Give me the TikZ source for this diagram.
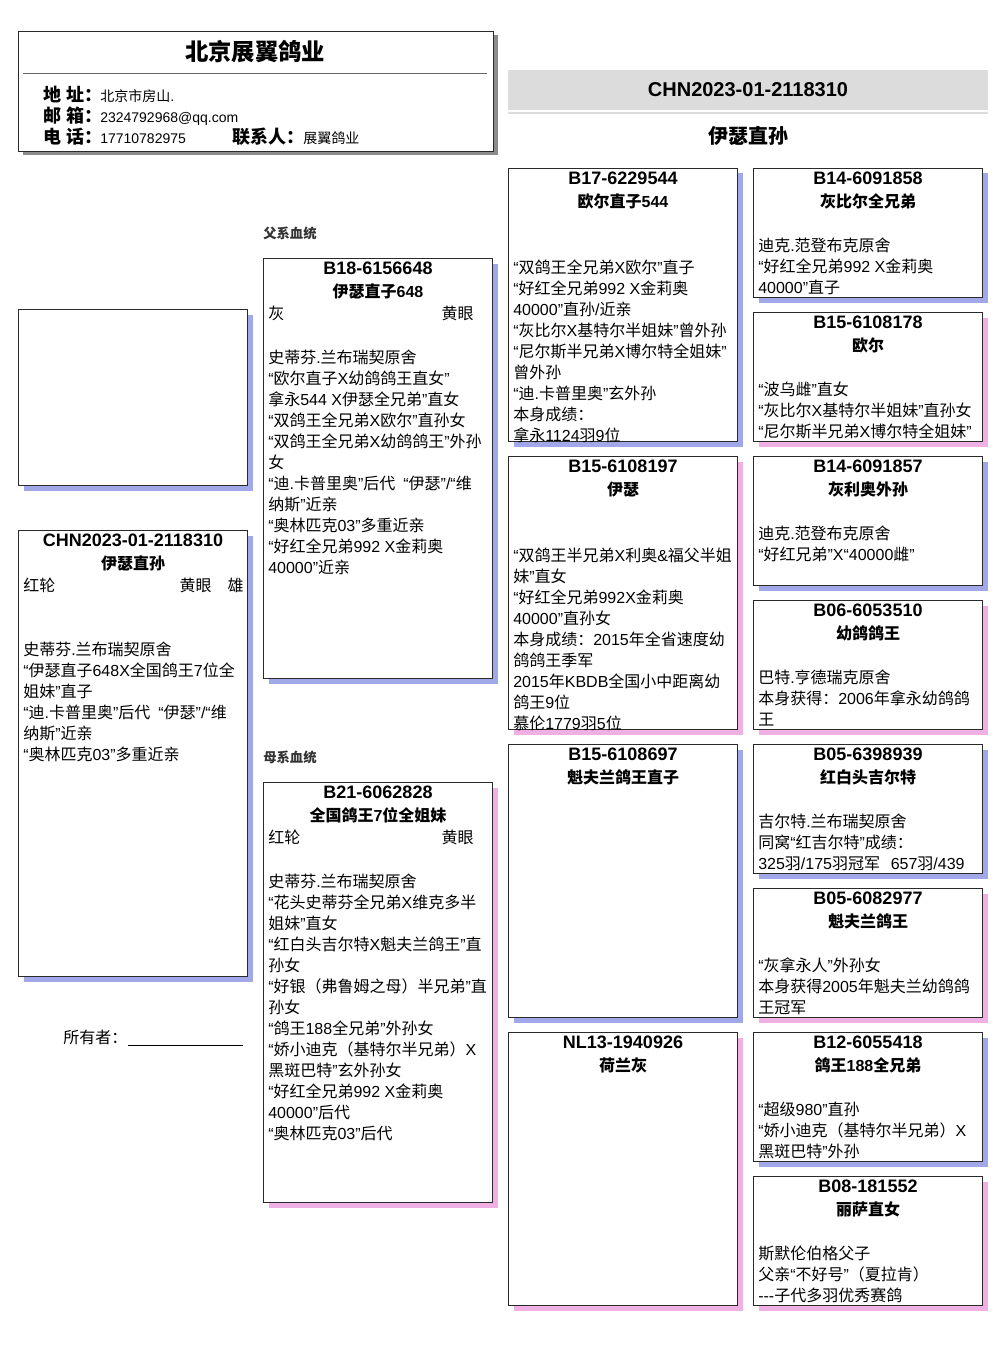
\documentclass[tikz,border=0pt]{standalone}
\usepackage{fontspec}
\setmainfont{Liberation Sans}
\newfontfamily\cjk{Noto Sans CJK SC}
\usetikzlibrary{shadows}
\XeTeXinterchartokenstate=1
\newXeTeXintercharclass\cjkcls
\newcount\cjkc
\cjkc="4E00
\loop\XeTeXcharclass\cjkc=\cjkcls\relax\ifnum\cjkc<"9FFF\relax\advance\cjkc by 1\relax\repeat
\cjkc="3000
\loop\XeTeXcharclass\cjkc=\cjkcls\relax\ifnum\cjkc<"303F\relax\advance\cjkc by 1\relax\repeat
\cjkc="FF00
\loop\XeTeXcharclass\cjkc=\cjkcls\relax\ifnum\cjkc<"FFEF\relax\advance\cjkc by 1\relax\repeat
\XeTeXinterchartoks 0 \cjkcls={\begingroup\cjk}
\XeTeXinterchartoks 4095 \cjkcls={\begingroup\cjk}
\XeTeXinterchartoks \cjkcls 0={\endgroup}
\XeTeXinterchartoks \cjkcls 4095={\endgroup}
\definecolor{shblue}{HTML}{A0A8E8}
\definecolor{shpink}{HTML}{F0B0E4}
\definecolor{bandgray}{HTML}{DCDCDC}
\definecolor{bordc}{HTML}{2A2A2A}
\tikzset{
  pedbox/.style={draw=bordc, line width=0.75pt, fill=white, anchor=north west, inner sep=0pt, minimum width=171.75pt},
  shb/.style={drop shadow={shadow xshift=3.75pt, shadow yshift=-3.75pt, fill=shblue, opacity=1}},
  shp/.style={drop shadow={shadow xshift=3.75pt, shadow yshift=-3.75pt, fill=shpink, opacity=1}},
  idtxt/.style={font=\bfseries\fontsize{13.5}{16}\selectfont, inner sep=0pt, anchor=base},
  nmtxt/.style={font=\bfseries\fontsize{12}{15}\selectfont, inner sep=0pt, anchor=base},
  bodytxt/.style={font=\fontsize{12}{15.75}\selectfont, inner sep=0pt},
  labtxt/.style={font=\bfseries\fontsize{13.5}{16}\selectfont, inner sep=0pt, anchor=base west},
  valtxt/.style={font=\fontsize{10.5}{12}\selectfont, inner sep=0pt, anchor=base west},
  sectxt/.style={font=\bfseries\fontsize{10}{12}\selectfont, text=black!80, inner sep=0pt, anchor=base west}
}
% box: name, x, y, height(px), shadow style
\newcommand\pbox[5]{\node[pedbox,#5,minimum height=#4*0.75pt] (#1) at (#2,#3) {};}
% header: name, id, bird name
\newcommand\phead[3]{%
  \node[idtxt] (#1-id) at ([yshift=-16.5*0.75pt]#1.north) {#2};
  \node[nmtxt] (#1-nm) at ([yshift=-39*0.75pt]#1.north) {#3};}
% content lines: name, first baseline offset (px), list
\newcommand\plines[3]{%
  \foreach \ln [count=\i from 0] in {#3} {
    \node[bodytxt, anchor=base west] (#1-l\i) at ([xshift=3.75pt, yshift={-(#2+21*\i)*0.75pt}]#1.north west) {\ln};
  }}
\begin{document}
\begin{tikzpicture}[x=0.75pt,y=-0.75pt]
\useasboundingbox (0,0) rectangle (1006,1366);
% ---------- header ----------
\node[pedbox, minimum width=356.25pt, minimum height=90pt, drop shadow={shadow xshift=3pt, shadow yshift=-3pt, fill=black!45, opacity=1}] (head) at (18,31) {};
\node[font=\bfseries\fontsize{17.5}{20}\selectfont, inner sep=0pt, anchor=base] (title) at (255,61) {北京展翼鸽业};
\coordinate (hl1) at (23,74);
\coordinate (hl2) at (487,74);
\draw[black!60, line width=0.75pt] (hl1) -- (hl2);
\node[labtxt] (lab1) at (43,102) {地 址：};
\node[valtxt] (val1) at (100,102) {北京市房山.};
\node[labtxt] (lab2) at (43,123) {邮 箱：};
\node[valtxt] (val2) at (100,123) {2324792968@qq.com};
\node[labtxt] (lab3) at (43,144) {电 话：};
\node[valtxt] (val3) at (100,144) {17710782975};
\node[labtxt] (lab4) at (232,144) {联系人：};
\node[valtxt] (val4) at (303,144) {展翼鸽业};
% ---------- band ----------
\node[fill=bandgray, inner sep=0pt, anchor=north west, minimum width=360pt, minimum height=30pt] (band) at (508,70) {};
\node[font=\bfseries\fontsize{15}{18}\selectfont, inner sep=0pt, anchor=base] (bandid) at (748,97) {CHN2023-01-2118310};
\coordinate (bl1) at (508,113);
\coordinate (bl2) at (988,113);
\draw[bandgray, line width=1.5pt] (bl1) -- (bl2);
\node[font=\bfseries\fontsize{15}{18}\selectfont, inner sep=0pt, anchor=base] (bandnm) at (748,144) {伊瑟直孙};
% ---------- left column ----------
\pbox{photo}{18}{309}{176}{shb}
\pbox{subj}{18}{530}{446}{shb}
\phead{subj}{CHN2023-01-2118310}{伊瑟直孙}
\node[bodytxt, anchor=base west] (subj-c) at ([xshift=3.75pt, yshift=-45.75pt]subj.north west) {红轮};
\node[bodytxt, anchor=base east] (subj-e) at ([xshift=-3pt, yshift=-45.75pt]subj.north east) {黄眼\hspace{12pt}雄};
\plines{subj}{125}{史蒂芬.兰布瑞契原舍,“伊瑟直子648X全国鸽王7位全,姐妹”直子,“迪.卡普里奥”后代\hspace{6pt}“伊瑟”/“维,纳斯”近亲,“奥林匹克03”多重近亲}
\node[font=\fontsize{12}{14}\selectfont, inner sep=0pt, anchor=base west] (owner) at (63,1043) {所有者：};
\coordinate (ow1) at (128,1045);
\coordinate (ow2) at (243,1045);
\draw[black, line width=0.75pt] (ow1) -- (ow2);
% ---------- second column ----------
\node[sectxt] (sirelab) at (263,238) {父系血统};
\pbox{sire}{263}{258}{420}{shb}
\phead{sire}{B18-6156648}{伊瑟直子648}
\node[bodytxt, anchor=base west] (sire-c) at ([xshift=3.75pt, yshift=-45.75pt]sire.north west) {灰};
\node[bodytxt, anchor=base east] (sire-e) at ([xshift=-14.25pt, yshift=-45.75pt]sire.north east) {黄眼};
\plines{sire}{105}{史蒂芬.兰布瑞契原舍,“欧尔直子X幼鸽鸽王直女”,拿永544 X伊瑟全兄弟”直女,“双鸽王全兄弟X欧尔”直孙女,“双鸽王全兄弟X幼鸽鸽王”外孙,女,“迪.卡普里奥”后代\hspace{6pt}“伊瑟”/“维,纳斯”近亲,“奥林匹克03”多重近亲,“好红全兄弟992 X金莉奥,40000”近亲}
\node[sectxt] (damlab) at (263,762) {母系血统};
\pbox{dam}{263}{782}{420}{shp}
\phead{dam}{B21-6062828}{全国鸽王7位全姐妹}
\node[bodytxt, anchor=base west] (dam-c) at ([xshift=3.75pt, yshift=-45.75pt]dam.north west) {红轮};
\node[bodytxt, anchor=base east] (dam-e) at ([xshift=-14.25pt, yshift=-45.75pt]dam.north east) {黄眼};
\plines{dam}{105}{史蒂芬.兰布瑞契原舍,“花头史蒂芬全兄弟X维克多半,姐妹”直女,“红白头吉尔特X魁夫兰鸽王”直,孙女,“好银（弗鲁姆之母）半兄弟”直,孙女,“鸽王188全兄弟”外孙女,“娇小迪克（基特尔半兄弟）X,黑斑巴特”玄外孙女,“好红全兄弟992 X金莉奥,40000”后代,“奥林匹克03”后代}
% ---------- third column ----------
\pbox{ga}{508}{168}{273}{shb}
\phead{ga}{B17-6229544}{欧尔直子544}
\plines{ga}{105}{“双鸽王全兄弟X欧尔”直子,“好红全兄弟992 X金莉奥,40000”直孙/近亲,“灰比尔X基特尔半姐妹”曾外孙,“尼尔斯半兄弟X博尔特全姐妹”,曾外孙,“迪.卡普里奥”玄外孙,本身成绩：,拿永1124羽9位}
\pbox{gb}{508}{456}{273}{shp}
\phead{gb}{B15-6108197}{伊瑟}
\plines{gb}{105}{“双鸽王半兄弟X利奥\&福父半姐,妹”直女,“好红全兄弟992X金莉奥,40000”直孙女,本身成绩：2015年全省速度幼,鸽鸽王季军,2015年KBDB全国小中距离幼,鸽王9位,慕伦1779羽5位}
\pbox{gc}{508}{744}{273}{shb}
\phead{gc}{B15-6108697}{魁夫兰鸽王直子}
\pbox{gd}{508}{1032}{273}{shp}
\phead{gd}{NL13-1940926}{荷兰灰}
% ---------- fourth column ----------
\pbox{ha}{753}{168}{129}{shb}
\phead{ha}{B14-6091858}{灰比尔全兄弟}
\plines{ha}{83}{迪克.范登布克原舍,“好红全兄弟992 X金莉奥,40000”直子}
\pbox{hb}{753}{312}{129}{shp}
\phead{hb}{B15-6108178}{欧尔}
\plines{hb}{83}{“波乌雌”直女,“灰比尔X基特尔半姐妹”直孙女,“尼尔斯半兄弟X博尔特全姐妹”}
\pbox{hc}{753}{456}{129}{shb}
\phead{hc}{B14-6091857}{灰利奥外孙}
\plines{hc}{83}{迪克.范登布克原舍,“好红兄弟”X“40000雌”}
\pbox{hd}{753}{600}{129}{shp}
\phead{hd}{B06-6053510}{幼鸽鸽王}
\plines{hd}{83}{巴特.亨德瑞克原舍,本身获得：2006年拿永幼鸽鸽,王}
\pbox{he}{753}{744}{129}{shb}
\phead{he}{B05-6398939}{红白头吉尔特}
\plines{he}{83}{吉尔特.兰布瑞契原舍,同窝“红吉尔特”成绩：,325羽/175羽冠军\hspace{8pt}657羽/439}
\pbox{hf}{753}{888}{129}{shp}
\phead{hf}{B05-6082977}{魁夫兰鸽王}
\plines{hf}{83}{“灰拿永人”外孙女,本身获得2005年魁夫兰幼鸽鸽,王冠军}
\pbox{hg}{753}{1032}{129}{shb}
\phead{hg}{B12-6055418}{鸽王188全兄弟}
\plines{hg}{83}{“超级980”直孙,“娇小迪克（基特尔半兄弟）X,黑斑巴特”外孙}
\pbox{hh}{753}{1176}{129}{shp}
\phead{hh}{B08-181552}{丽萨直女}
\plines{hh}{83}{斯默伦伯格父子,父亲“不好号”（夏拉肯）,-{}-{}-子代多羽优秀赛鸽}
\end{tikzpicture}
\end{document}
